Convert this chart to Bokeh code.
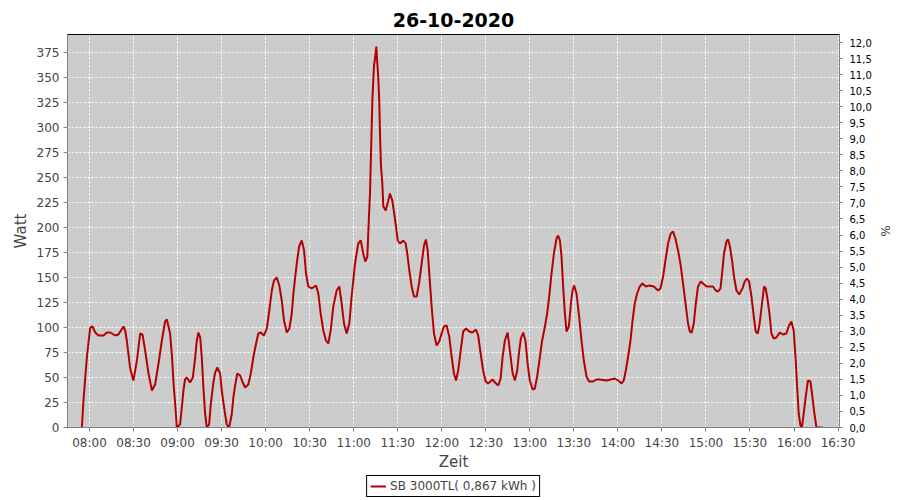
from bokeh.plotting import figure
from bokeh.layouts import column
from bokeh.models import (Range1d, LinearAxis, FixedTicker, Legend, LegendItem,
                          ColumnDataSource)
from bokeh.embed import file_html
from bokeh.resources import INLINE

TITLE = "26-10-2020"
SERIES_LABEL = "SB 3000TL( 0,867 kWh )"

# time of day in minutes after midnight
minutes = [
    474.8, 475.9, 477.1, 478.2, 479.3, 480.5, 482.0, 483.9, 486.1, 489.5,
    491.8, 494.1, 497.5, 499.7, 501.4, 503.1, 504.3, 505.4, 507.7, 509.9,
    512.3, 514.5, 516.1, 517.9, 520.2, 522.5, 524.7, 527.0, 529.3, 531.5,
    532.7, 534.9, 536.1, 537.2, 538.3, 539.5, 541.7, 542.9, 544.0, 545.1,
    546.3, 548.5, 550.4, 552.0, 553.1, 554.2, 555.4, 556.5, 557.6, 558.8,
    559.9, 561.5, 562.6, 564.4, 565.6, 567.1, 569.0, 570.1, 571.7, 573.5,
    575.1, 576.9, 578.0, 579.2, 580.7, 582.6, 584.4, 586.0, 588.2, 589.9,
    591.6, 593.5, 595.0, 596.7, 598.9, 600.8, 602.5, 604.2, 605.7, 607.6,
    609.3, 611.0, 612.5, 614.4, 616.2, 617.8, 618.9, 621.2, 622.8, 624.6,
    626.2, 627.5, 629.1, 631.4, 634.3, 635.9, 637.5, 639.3, 641.1, 642.7,
    644.3, 646.1, 648.4, 650.2, 651.8, 653.4, 655.2, 657.0, 658.6, 660.9,
    663.1, 664.8, 666.5, 667.9, 669.3, 670.4, 671.1, 671.8, 672.7, 673.8,
    674.7, 675.4, 676.1, 676.7, 677.4, 677.9, 678.6, 679.5, 680.2, 681.8,
    683.6, 684.7, 686.3, 687.6, 688.8, 690.0, 691.5, 693.8, 695.4, 696.5,
    697.9, 699.5, 701.1, 702.9, 704.5, 706.3, 707.9, 709.2, 710.4, 711.5,
    713.1, 714.7, 716.5, 718.3, 719.9, 721.5, 723.3, 725.1, 726.7, 728.3,
    729.7, 731.2, 732.9, 734.6, 736.5, 738.7, 740.8, 743.3, 744.8, 746.5,
    748.2, 749.9, 751.6, 754.6, 756.9, 758.5, 760.1, 761.5, 763.0, 764.9,
    766.4, 768.3, 769.8, 771.4, 772.8, 773.9, 775.5, 777.1, 778.5, 780.0,
    781.9, 783.4, 785.0, 786.9, 788.4, 790.3, 791.8, 793.2, 794.8, 796.4,
    798.2, 799.3, 800.5, 801.6, 802.7, 803.9, 805.0, 806.6, 808.0, 809.1,
    810.2, 811.8, 813.6, 815.2, 816.8, 818.6, 820.4, 823.1, 825.5, 827.7,
    832.3, 837.9, 840.2, 842.5, 844.0, 845.4, 847.0, 848.6, 850.0, 851.5,
    853.1, 854.9, 856.8, 859.0, 861.7, 864.5, 867.4, 869.0, 870.8, 872.4,
    874.2, 876.0, 877.6, 879.2, 881.0, 882.6, 884.4, 886.1, 887.8, 889.0,
    890.3, 891.7, 893.1, 894.6, 896.5, 898.0, 900.4, 902.6, 904.8, 906.7,
    908.3, 909.9, 911.2, 912.3, 914.0, 915.1, 916.2, 917.8, 919.1, 920.8,
    922.6, 924.9, 926.4, 928.0, 929.4, 931.0, 932.6, 933.9, 935.3, 936.6,
    938.2, 939.6, 940.7, 942.1, 943.5, 944.6, 946.2, 948.0, 950.3, 952.5,
    954.8, 956.6, 958.2, 959.8, 961.0, 962.0, 963.2, 964.4, 965.4, 966.6,
    968.0, 969.5, 971.2, 972.5, 973.9, 975.3, 979.7,
]

watt = [
    0, 27, 50, 70, 85, 100, 101, 95, 92, 92,
    95, 95, 92, 93, 97, 101, 97, 87, 59, 47,
    67, 94, 93, 77, 54, 37, 43, 64, 87, 106,
    108, 94, 73, 45, 25, 0, 3, 20, 37, 48,
    50, 45, 50, 70, 87, 95, 90, 70, 40, 13,
    0, 3, 23, 45, 55, 60, 54, 37, 20, 3,
    0, 13, 30, 42, 54, 52, 45, 40, 43, 54,
    70, 84, 94, 95, 92, 99, 117, 137, 147, 150,
    142, 127, 107, 95, 99, 114, 134, 164, 181, 187,
    177, 154, 141, 139, 142, 134, 114, 97, 87, 84,
    97, 121, 137, 141, 124, 104, 94, 104, 131, 164,
    184, 187, 174, 166, 171, 211, 234, 274, 327, 361,
    371, 381, 364, 351, 327, 294, 261, 244, 221, 217,
    227, 234, 227, 214, 201, 187, 184, 187, 184, 174,
    157, 141, 131, 131, 144, 164, 182, 188, 177, 154,
    121, 94, 82, 86, 94, 101, 102, 91, 71, 54,
    47, 57, 77, 96, 99, 96, 95, 98, 92, 74,
    57, 46, 44, 48, 44, 42, 49, 71, 87, 95,
    77, 54, 47, 57, 77, 89, 95, 86, 64, 47,
    38, 39, 51, 71, 87, 101, 114, 131, 154, 174,
    189, 192, 187, 171, 141, 114, 96, 101, 124, 137,
    142, 134, 111, 87, 67, 51, 46, 46, 48, 48,
    47, 49, 47, 44, 47, 57, 71, 87, 107, 124,
    134, 141, 144, 141, 142, 141, 137, 139, 151, 167,
    184, 194, 196, 189, 177, 164, 144, 124, 104, 96,
    95, 104, 124, 141, 146, 144, 141, 141, 141, 137,
    136, 139, 157, 174, 186, 188, 182, 167, 151, 137,
    133, 139, 146, 149, 146, 131, 111, 96, 94, 104,
    124, 141, 139, 127, 111, 94, 89, 90, 95, 93,
    94, 102, 106, 97, 71, 44, 14, 2, 0, 14,
    31, 47, 46, 31, 14, 0, 0,
]

x_tick_labels = ["08:00", "08:30", "09:00", "09:30", "10:00", "10:30", "11:00",
                 "11:30", "12:00", "12:30", "13:00", "13:30", "14:00", "14:30",
                 "15:00", "15:30", "16:00", "16:30"]
watt_ticks = [0, 25, 50, 75, 100, 125, 150, 175, 200, 225, 250, 275, 300, 325, 350, 375]
pct_tick_labels = ["0,0", "0,5", "1,0", "1,5", "2,0", "2,5", "3,0", "3,5", "4,0",
                   "4,5", "5,0", "5,5", "6,0", "6,5", "7,0", "7,5", "8,0", "8,5",
                   "9,0", "9,5", "10,0", "10,5", "11,0", "11,5", "12,0"]

X_START, X_END = 465, 991       # 07:45 .. ~16:31
W_MAX = 393
PCT_MAX = 12.25

FONT = "DejaVu Sans"
GREY_TXT = "#444444"
AXIS_GREY = "#808080"
LINE_COLOR = "#B40000"

p = figure(frame_width=772, frame_height=393, output_backend="svg",
           toolbar_location=None,
           x_range=Range1d(X_START, X_END), y_range=Range1d(0, W_MAX),
           title=TITLE, min_border_left=67, min_border_right=61,
           min_border_top=34, min_border_bottom=41)

p.background_fill_color = "#CCCCCC"
p.border_fill_color = "white"
p.outline_line_color = "black"
p.outline_line_width = 1

p.title.text_font = FONT
p.title.text_font_size = "19px"
p.title.text_font_style = "bold"
p.title.text_color = "black"
p.title.align = "center"
p.title.standoff = 15
p.title.offset = -4

src = ColumnDataSource(dict(t=minutes, w=watt))
r = p.line("t", "w", source=src, line_color=LINE_COLOR, line_width=2)

# x axis
xt = [int(s[:2]) * 60 + int(s[3:]) for s in x_tick_labels]
xa = p.xaxis[0]
xa.ticker = FixedTicker(ticks=xt)
xa.major_label_overrides = {v: s for v, s in zip(xt, x_tick_labels)}
xa.axis_label = "Zeit"

ya = p.yaxis[0]
ya.ticker = FixedTicker(ticks=watt_ticks)
ya.axis_label = "Watt"

for ax in (xa, ya):
    ax.axis_line_color = AXIS_GREY
    ax.major_tick_line_color = AXIS_GREY
    ax.major_tick_out = 4
    ax.major_tick_in = 0
    ax.minor_tick_line_color = None
    ax.major_label_text_font = FONT
    ax.major_label_text_font_size = "12px"
    ax.major_label_text_color = GREY_TXT
    ax.major_label_standoff = 4
    ax.axis_label_text_font = FONT
    ax.axis_label_text_font_size = "15px"
    ax.axis_label_text_font_style = "normal"
    ax.axis_label_text_color = GREY_TXT
    ax.axis_label_standoff = 4
xa.major_label_standoff = 4
xa.axis_label_standoff = 0

# right axis (%)
pct_vals = [float(s.replace(",", ".")) for s in pct_tick_labels]
p.extra_y_ranges = {"pct": Range1d(0, PCT_MAX)}
ra = LinearAxis(y_range_name="pct", axis_label="%")
ra.ticker = FixedTicker(ticks=pct_vals)
ra.major_label_overrides = {v: s for v, s in zip(pct_vals, pct_tick_labels)}
ra.axis_line_color = AXIS_GREY
ra.major_tick_line_color = AXIS_GREY
ra.major_tick_out = 3
ra.major_tick_in = 0
ra.minor_tick_line_color = None
ra.major_label_text_font = FONT
ra.major_label_text_font_size = "10px"
ra.major_label_text_color = "black"
ra.major_label_standoff = 7
ra.axis_label_text_font = FONT
ra.axis_label_text_font_size = "12px"
ra.axis_label_text_font_style = "normal"
ra.axis_label_text_color = GREY_TXT
ra.axis_label_standoff = 3
p.add_layout(ra, "right")

# grid
for g in (p.xgrid[0], p.ygrid[0]):
    g.grid_line_color = "white"
    g.grid_line_dash = "2 2"
    g.grid_line_width = 1
    g.grid_line_alpha = 1.0

# legend strip under the chart (series drawn off-range, only its legend shows)
pl = figure(width=900, height=25, output_backend="svg", toolbar_location=None,
            x_range=Range1d(0, 1), y_range=Range1d(0, 1), min_border=0)
pl.xaxis.visible = False
pl.yaxis.visible = False
pl.grid.visible = False
pl.outline_line_color = None
pl.background_fill_color = "white"
pl.border_fill_color = "white"
rl = pl.line("t", "w", source=src, line_color=LINE_COLOR, line_width=2)

legend = Legend(items=[LegendItem(label=SERIES_LABEL, renderers=[rl])],
                location="center", orientation="horizontal",
                border_line_color="black", border_line_width=1, border_line_alpha=1,
                background_fill_color="white", background_fill_alpha=1,
                label_text_font=FONT, label_text_font_size="12px",
                label_text_color=GREY_TXT, glyph_width=16, glyph_height=14,
                label_height=14, padding=3, margin=0, spacing=0, label_standoff=4)
pl.add_layout(legend, "center")

layout = column(p, pl, spacing=0)
open("out.html", "w").write(file_html(layout, INLINE))
